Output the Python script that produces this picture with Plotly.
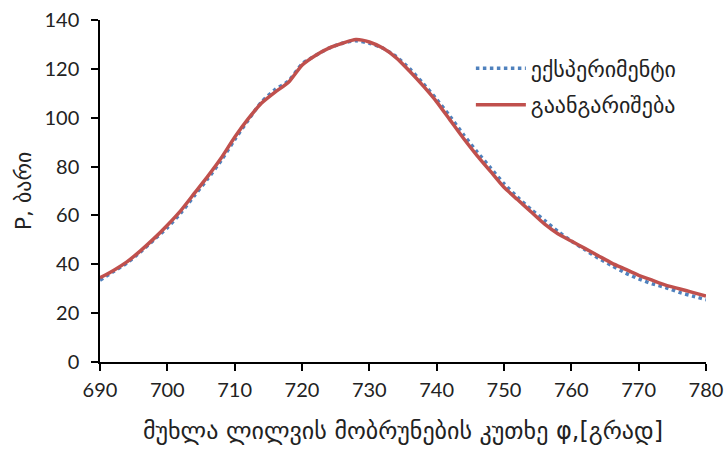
import plotly.graph_objects as go

angle = [690, 692, 694, 696, 698, 700, 702, 704, 706, 708, 710, 712, 714, 716, 718,
         720, 722, 724, 726, 728, 730, 732, 734, 736, 738, 740, 742, 744, 746, 748,
         750, 752, 754, 756, 758, 760, 762, 764, 766, 768, 770, 772, 774, 776, 778, 780]

experiment = [33.5, 37, 40.5, 45, 50, 55, 61, 68, 75, 82.5, 91, 99, 106.5, 111.5, 115,
              122, 125.5, 128.5, 130.5, 131.5, 130.5, 128.5, 125, 120, 114, 107.5, 100.5, 93, 86, 79.5,
              73, 67.5, 62.5, 58, 53.5, 49.5, 46, 42.5, 39.5, 36.5, 34, 32, 30.5, 28.5, 27, 25.5]

calculation = [34.5, 37.5, 41, 45.5, 50.5, 56, 62, 69, 76, 83.5, 92, 99.5, 106, 110.5, 114.5,
               121.5, 125.5, 128.5, 130.5, 132, 131, 128.5, 124.5, 119, 113, 106.5, 99, 91.5, 84.5, 78,
               71.5, 66.5, 61.5, 56.5, 52.5, 49.5, 46.5, 43.5, 40.5, 38, 35.5, 33.5, 31.5, 30, 28.5, 27]

x_ticks = [690, 700, 710, 720, 730, 740, 750, 760, 770, 780]
y_ticks = [0, 20, 40, 60, 80, 100, 120, 140]

series_names = ["ექსპერიმენტი", "გაანგარიშება"]
x_title = "მუხლა ლილვის მობრუნების კუთხე φ,[გრად]"
y_title = "P, ბარი"

fig = go.Figure()
fig.add_trace(go.Scatter(x=angle, y=experiment, mode="lines", name=series_names[0],
                         legendgroup="a",
                         line=dict(color="#4F81BD", width=3.5, dash="dot", shape="spline", smoothing=0.6)))
fig.add_trace(go.Scatter(x=angle, y=calculation, mode="lines", name=series_names[1],
                         legendgroup="b",
                         line=dict(color="#C0504D", width=3.5, shape="spline", smoothing=0.6)))

tick_font = dict(family="Lato, Liberation Sans, sans-serif", size=20, color="#222222")
geo_font = dict(family="DejaVu Sans, sans-serif", size=22, color="#222222")

fig.update_layout(
    width=724, height=450,
    margin=dict(l=100, r=18, t=20, b=88),
    paper_bgcolor="white", plot_bgcolor="white",
    showlegend=True,
    legend=dict(x=0.612, y=0.92, xanchor="left", yanchor="top",
                font=geo_font, bgcolor="rgba(0,0,0,0)", tracegroupgap=5,
                itemwidth=50),
    xaxis=dict(range=[690, 780], tickvals=x_ticks, ticks="outside", ticklen=7,
               tickwidth=1.5, tickcolor="black", showline=True, linecolor="black",
               linewidth=1.5, showgrid=False, zeroline=False, tickfont=tick_font,
               automargin=False, ticklabelstandoff=2,
               title=dict(text=x_title, font=dict(family="DejaVu Sans, sans-serif", size=24, color="#222222"),
                          standoff=22)),
    yaxis=dict(range=[0, 140], tickvals=y_ticks, ticks="outside", ticklen=7,
               tickwidth=1.5, tickcolor="black", showline=True, linecolor="black",
               linewidth=1.5, showgrid=False, zeroline=False, tickfont=tick_font,
               automargin=False, ticklabelstandoff=8,
               title=dict(text=y_title, font=dict(family="DejaVu Sans, sans-serif", size=22, color="#222222"),
                          standoff=7)),
)

fig.write_html("out.html")
